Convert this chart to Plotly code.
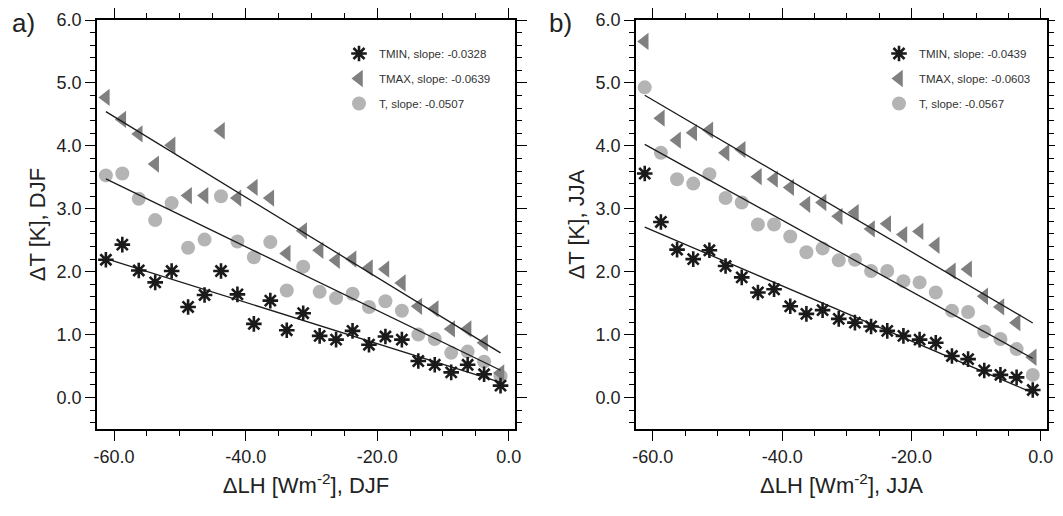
import plotly.graph_objects as go

# ---------------- data ----------------
lh = [-61.25, -58.75, -56.25, -53.75, -51.25, -48.75, -46.25, -43.75, -41.25,
      -38.75, -36.25, -33.75, -31.25, -28.75, -26.25, -23.75, -21.25, -18.75,
      -16.25, -13.75, -11.25, -8.75, -6.25, -3.75, -1.25]

# DJF
djf_tmin = [2.19, 2.43, 2.02, 1.83, 2.01, 1.44, 1.63, 2.01, 1.64, 1.17, 1.54, 1.07,
            1.34, 0.98, 0.92, 1.06, 0.84, 0.97, 0.92, 0.58, 0.52, 0.40, 0.52, 0.37, 0.19]
djf_tmax = [4.77, 4.42, 4.19, 3.71, 4.01, 3.21, 3.21, 4.24, 3.17, 3.34, 3.17, 2.29,
            2.65, 2.34, 2.18, 2.20, 2.06, 2.04, 1.82, 1.45, 1.41, 1.09, 1.09, 0.87, 0.39]
djf_t = [3.53, 3.56, 3.16, 2.82, 3.09, 2.38, 2.51, 3.20, 2.48, 2.23, 2.47, 1.70,
         2.08, 1.68, 1.58, 1.65, 1.44, 1.53, 1.38, 1.00, 0.93, 0.71, 0.73, 0.57, 0.34]

# JJA
jja_tmin = [3.56, 2.79, 2.35, 2.20, 2.34, 2.09, 1.91, 1.67, 1.72, 1.45, 1.33, 1.39,
            1.25, 1.19, 1.13, 1.06, 0.98, 0.92, 0.87, 0.66, 0.61, 0.43, 0.36, 0.32, 0.12]
jja_tmax = [5.66, 4.44, 4.09, 4.21, 4.25, 3.89, 3.94, 3.51, 3.47, 3.34, 3.07, 3.10,
            2.88, 2.94, 2.68, 2.76, 2.59, 2.64, 2.42, 2.01, 2.04, 1.61, 1.44, 1.19, 0.64]
jja_t = [4.93, 3.89, 3.47, 3.40, 3.55, 3.17, 3.10, 2.75, 2.75, 2.56, 2.31, 2.37,
         2.18, 2.19, 2.01, 2.01, 1.85, 1.83, 1.67, 1.38, 1.36, 1.05, 0.93, 0.77, 0.36]

# regression lines: slope (from legend) and intercept at LH=0
djf_slopes = {"TMIN": -0.0328, "TMAX": -0.0639, "T": -0.0507}
djf_icpt = {"TMIN": 0.20, "TMAX": 0.63, "T": 0.37}
jja_slopes = {"TMIN": -0.0439, "TMAX": -0.0603, "T": -0.0567}
jja_icpt = {"TMIN": 0.02, "TMAX": 1.11, "T": 0.55}

x_ticks = [-60, -40, -20, 0]
x_ticklabels = ["-60.0", "-40.0", "-20.0", "0.0"]
y_ticks = [0, 1, 2, 3, 4, 5, 6]
y_ticklabels = ["0.0", "1.0", "2.0", "3.0", "4.0", "5.0", "6.0"]

# ---------------- styling ----------------
FONT = "Liberation Sans, Arial, Helvetica, sans-serif"
C_TMIN = "#1a1a1a"
C_TMAX = "#808080"
C_T = "#b4b4b4"
OFF = 8  # default page body margin
W, H = 1063 - 2 * OFF, 516 - 2 * OFF
ML, MR, MT, MB = 97 - OFF, 8, 20 - OFF, 79
PW, PH = W - ML - MR, H - MT - MB


def px(xpage):
    return (xpage - OFF - ML) / PW


def py(ypage):
    return (H - MB - (ypage - OFF)) / PH


fig = go.Figure()

panels = [
    ("x", "y", "legend", "a", djf_tmin, djf_tmax, djf_t, djf_slopes, djf_icpt),
    ("x2", "y2", "legend2", "b", jja_tmin, jja_tmax, jja_t, jja_slopes, jja_icpt),
]

for xa, ya, lg, tag, tmin, tmax, tt, slopes, icpt in panels:
    xs = [min(lh), max(lh)]
    fig.add_trace(go.Scatter(
        x=lh, y=tt, mode="markers", xaxis=xa, yaxis=ya, legend=lg,
        legendgroup=tag + "T", name=f"T, slope: {slopes['T']:.4f}", legendrank=3,
        marker=dict(symbol="circle", size=14, color=C_T, line=dict(width=0))))
    fig.add_trace(go.Scatter(
        x=lh, y=tmax, mode="markers", xaxis=xa, yaxis=ya, legend=lg,
        legendgroup=tag + "TMAX", name=f"TMAX, slope: {slopes['TMAX']:.4f}", legendrank=2,
        marker=dict(symbol="triangle-left", size=15, color=C_TMAX, line=dict(width=0))))
    fig.add_trace(go.Scatter(
        x=lh, y=tmin, mode="markers", xaxis=xa, yaxis=ya, legend=lg,
        legendgroup=tag + "TMIN", name=f"TMIN, slope: {slopes['TMIN']:.4f}", legendrank=1,
        marker=dict(symbol="asterisk-open", size=13, color=C_TMIN,
                    line=dict(width=2.6, color=C_TMIN))))
    for key in ["TMIN", "TMAX", "T"]:
        ys = [icpt[key] + slopes[key] * v for v in xs]
        fig.add_trace(go.Scatter(
            x=xs, y=ys, mode="lines", xaxis=xa, yaxis=ya, showlegend=False,
            line=dict(color="#1a1a1a", width=1.3), hoverinfo="skip"))

ax_common = dict(
    showline=True, linecolor="black", linewidth=1.5, mirror="allticks",
    ticks="outside", ticklen=10, tickwidth=1, tickcolor="black",
    showgrid=False, zeroline=False, automargin=False,
    tickfont=dict(family=FONT, size=18, color="#222"),
)

xdom1 = [0, px(515)]
xdom2 = [px(636), 1]

xa_common = dict(ax_common, range=[-62.6, 0.95], tickvals=x_ticks, ticktext=x_ticklabels,
                 minor=dict(dtick=5, ticklen=5, ticks="outside", tickcolor="black"),
                 ticklabelstandoff=1)
ya_common = dict(ax_common, range=[-0.5, 6.0], tickvals=y_ticks, ticktext=y_ticklabels,
                 minor=dict(dtick=0.2, tick0=0, ticklen=5, ticks="outside", tickcolor="black"))

title_font = dict(family=FONT, size=22, color="#222")
leg_font = dict(family=FONT, size=11.5, color="#333")

fig.update_layout(
    width=W, height=H,
    margin=dict(l=ML, r=MR, t=MT, b=MB),
    paper_bgcolor="white", plot_bgcolor="white",
    font=dict(family=FONT, color="#222"),
    xaxis=dict(xa_common, domain=xdom1, anchor="y",
               title=dict(text="ΔLH [Wm<sup>-2</sup>], DJF", font=title_font, standoff=11)),
    yaxis=dict(ya_common, domain=[0, 1], anchor="x",
               title=dict(text="ΔT [K], DJF", font=title_font, standoff=5)),
    xaxis2=dict(xa_common, domain=xdom2, anchor="y2",
                title=dict(text="ΔLH [Wm<sup>-2</sup>], JJA", font=title_font, standoff=11)),
    yaxis2=dict(ya_common, domain=[0, 1], anchor="x2",
                title=dict(text="ΔT [K], JJA", font=title_font, standoff=5)),
    legend=dict(x=px(339), y=py(39), xanchor="left", yanchor="top",
                bgcolor="rgba(0,0,0,0)", font=leg_font,
                tracegroupgap=6, itemwidth=30),
    legend2=dict(x=px(879), y=py(39), xanchor="left", yanchor="top",
                 bgcolor="rgba(0,0,0,0)", font=leg_font,
                 tracegroupgap=6, itemwidth=30),
    showlegend=True,
    annotations=[
        dict(text="a)", x=px(10), y=py(23), xref="paper", yref="paper",
             xanchor="left", yanchor="middle", showarrow=False,
             font=dict(family=FONT, size=26, color="#222")),
        dict(text="b)", x=px(547), y=py(23), xref="paper", yref="paper",
             xanchor="left", yanchor="middle", showarrow=False,
             font=dict(family=FONT, size=26, color="#222")),
    ],
)

fig.write_html("out.html")
